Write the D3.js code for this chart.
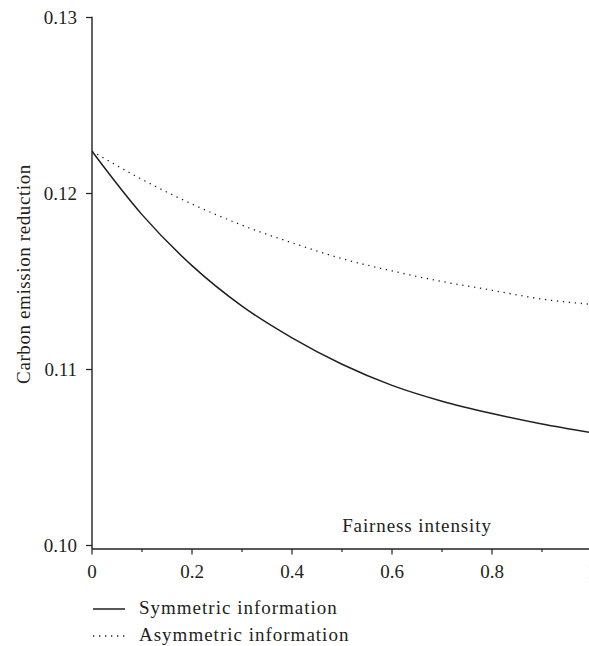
<!DOCTYPE html>
<html>
<head>
<meta charset="utf-8">
<script src="https://cdn.jsdelivr.net/npm/d3@7"></script>
<style>
  html, body { margin: 0; padding: 0; background: #fff; }
  svg { display: block; }
  text { font-family: "Liberation Serif", "DejaVu Serif", serif; fill: #231f20; }
</style>
</head>
<body>
<svg id="chart" width="589" height="646"></svg>
<script>
// Fairness intensity (x) and carbon emission reduction under each information setting
const fairness   = [0, 0.1, 0.2, 0.3, 0.4, 0.5, 0.6, 0.7, 0.8, 0.9, 1.0];
const symmetric  = [0.1224, 0.1188, 0.1159, 0.1136, 0.1118, 0.1103, 0.1091, 0.1082, 0.1075, 0.1069, 0.1064];
const asymmetric = [0.1224, 0.1208, 0.1194, 0.1182, 0.1172, 0.1163, 0.1156, 0.1150, 0.1145, 0.1140, 0.1137];
const xTicks = [0, 0.2, 0.4, 0.6, 0.8, 1];
const xMinorTicks = [0.1, 0.3, 0.5, 0.7, 0.9];
const yTicks = [0.10, 0.11, 0.12, 0.13];
const seriesNames = ["Symmetric information", "Asymmetric information"];

const ink = "#231f20";
const svg = d3.select("#chart");

const x = d3.scaleLinear().domain([0, 1]).range([92, 592]);
const y = d3.scaleLinear().domain([0.10, 0.13]).range([545.5, 17.5]);
const axisY = 549; // x-axis sits just below the 0.10 tick

// Axes lines
svg.append("line")
  .attr("x1", x(0)).attr("x2", 589)
  .attr("y1", axisY).attr("y2", axisY)
  .attr("stroke", ink).attr("stroke-width", 1.4);
svg.append("line")
  .attr("x1", x(0)).attr("x2", x(0))
  .attr("y1", y(0.13) - 0.7).attr("y2", axisY)
  .attr("stroke", ink).attr("stroke-width", 1.4);

// X ticks
svg.selectAll(".xt").data(xTicks).enter().append("line")
  .attr("x1", d => x(d)).attr("x2", d => x(d))
  .attr("y1", axisY).attr("y2", axisY + 5.5)
  .attr("stroke", ink).attr("stroke-width", 1.2);
svg.selectAll(".xm").data(xMinorTicks).enter().append("line")
  .attr("x1", d => x(d)).attr("x2", d => x(d))
  .attr("y1", axisY).attr("y2", axisY + 3)
  .attr("stroke", ink).attr("stroke-width", 1.2);
svg.selectAll(".xl").data(xTicks).enter().append("text")
  .attr("x", d => x(d)).attr("y", 578)
  .attr("text-anchor", "middle")
  .attr("font-size", 19)
  .text(d => d3.format("~g")(d));

// Y ticks
svg.selectAll(".yt").data(yTicks).enter().append("line")
  .attr("x1", x(0) - 6).attr("x2", x(0))
  .attr("y1", d => y(d)).attr("y2", d => y(d))
  .attr("stroke", ink).attr("stroke-width", 1.2);
svg.selectAll(".yl").data(yTicks).enter().append("text")
  .attr("x", 77).attr("y", d => y(d))
  .attr("dy", "0.33em")
  .attr("text-anchor", "end")
  .attr("font-size", 19)
  .text(d => d3.format(".2f")(d));

// Axis titles
svg.append("text")
  .attr("transform", "translate(30,274) rotate(-90)")
  .attr("text-anchor", "middle")
  .attr("font-size", 19)
  .attr("letter-spacing", 0.6)
  .text("Carbon emission reduction");
svg.append("text")
  .attr("x", 417).attr("y", 531.5)
  .attr("text-anchor", "middle")
  .attr("font-size", 19)
  .attr("letter-spacing", 0.9)
  .text("Fairness intensity");

// Curves
const line = (vals) => d3.line()
  .x((d, i) => x(fairness[i]))
  .y(d => y(d))
  .curve(d3.curveMonotoneX)(vals);

svg.append("path")
  .attr("d", line(asymmetric))
  .attr("fill", "none")
  .attr("stroke", ink)
  .attr("stroke-width", 1.3)
  .attr("stroke-dasharray", "1.3 4.7");

svg.append("path")
  .attr("d", line(symmetric))
  .attr("fill", "none")
  .attr("stroke", ink)
  .attr("stroke-width", 1.5);

// Legend
const legend = svg.append("g");
const rows = [
  { name: seriesNames[0], dash: null, yy: 609 },
  { name: seriesNames[1], dash: "1.3 4.7", yy: 636 }
];
rows.forEach(r => {
  legend.append("line")
    .attr("x1", 93).attr("x2", 125)
    .attr("y1", r.yy).attr("y2", r.yy)
    .attr("stroke", ink)
    .attr("stroke-width", r.dash ? 1.3 : 1.5)
    .attr("stroke-dasharray", r.dash);
  legend.append("text")
    .attr("x", 139).attr("y", r.yy + 5)
    .attr("font-size", 19)
    .attr("letter-spacing", 1)
    .text(r.name);
});
</script>
</body>
</html>
